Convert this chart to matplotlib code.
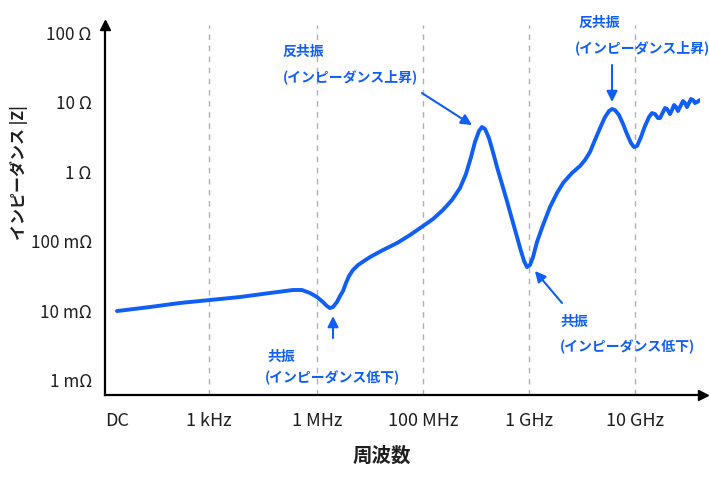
import matplotlib
matplotlib.use("Agg")
import matplotlib.pyplot as plt
import numpy as np

plt.rcParams['font.family'] = ['Noto Sans CJK JP', 'DejaVu Sans']

# x: position along the (schematic) frequency axis, DC = 0
# z: log10 of |Z| in ohms
freq_pos = [0.000, 0.311, 0.594, 0.877, 1.160, 1.443, 1.660, 1.745, 1.821, 1.887,
            1.943, 1.981, 2.009, 2.038, 2.075, 2.104, 2.132, 2.160, 2.189, 2.226,
            2.274, 2.330, 2.387, 2.509, 2.642, 2.764, 2.887, 2.981, 3.075, 3.160,
            3.236, 3.292, 3.340, 3.377, 3.415, 3.443, 3.472, 3.509, 3.547, 3.585,
            3.632, 3.679, 3.726, 3.774, 3.811, 3.840, 3.868, 3.896, 3.925, 3.962,
            4.019, 4.085, 4.151, 4.208, 4.292, 4.368, 4.415, 4.462, 4.509, 4.557,
            4.604, 4.642, 4.670, 4.698, 4.736, 4.774, 4.811, 4.849, 4.877, 4.906,
            4.943, 4.981, 5.019, 5.047, 5.075, 5.104, 5.123, 5.142, 5.170, 5.189,
            5.217, 5.236, 5.255, 5.274, 5.292, 5.311, 5.340, 5.358, 5.377, 5.396,
            5.415, 5.434, 5.453, 5.472, 5.500]
z_log = [-2.006, -1.948, -1.890, -1.847, -1.804, -1.746, -1.703, -1.703, -1.746, -1.804,
         -1.876, -1.934, -1.963, -1.948, -1.876, -1.790, -1.718, -1.602, -1.501, -1.415,
         -1.343, -1.285, -1.228, -1.127, -1.026, -0.911, -0.781, -0.680, -0.550, -0.406,
         -0.233, -0.032, 0.213, 0.429, 0.588, 0.646, 0.617, 0.487, 0.285, 0.069,
         -0.176, -0.421, -0.680, -0.939, -1.141, -1.285, -1.372, -1.343, -1.228, -1.012,
         -0.767, -0.507, -0.305, -0.161, -0.017, 0.084, 0.170, 0.285, 0.458, 0.631,
         0.790, 0.876, 0.905, 0.890, 0.818, 0.689, 0.545, 0.415, 0.357, 0.372,
         0.501, 0.660, 0.790, 0.847, 0.833, 0.775, 0.775, 0.833, 0.919, 0.905,
         0.833, 0.890, 0.963, 0.934, 0.876, 0.934, 1.020, 0.991, 0.934, 0.991,
         1.049, 1.035, 0.991, 1.006, 1.035]

x_ticks = [0.0, 0.868, 1.887, 2.887, 3.887, 4.887]
x_labels = ['DC', '1 kHz', '1 MHz', '100 MHz', '1 GHz', '10 GHz']
y_ticks = [1e-3, 1e-2, 1e-1, 1, 10, 100]
y_labels = ['1 m\u03a9', '10 m\u03a9', '100 m\u03a9', '1 \u03a9', '10 \u03a9', '100 \u03a9']

blue = '#0f5ef5'
grey_txt = '#1e1e1e'

fig = plt.figure(figsize=(7.09, 4.78), dpi=100)
ax = fig.add_axes([0.1481, 0.1736, 0.8392, 0.774])

z = 10 ** np.array(z_log)
ax.plot(freq_pos, z, color=blue, lw=2.8, solid_capstyle='round',
        solid_joinstyle='round', zorder=3)
ax.set_yscale('log')
ax.set_xlim(-0.113, 5.5)
ax.set_ylim(10 ** -3.216, 10 ** 2.115)

for xv in x_ticks[1:]:
    ax.axvline(xv, color='#b0b0b0', lw=1.0, ls=(0, (4, 4)), zorder=1)

ax.set_xticks(x_ticks)
ax.set_xticklabels(x_labels, fontsize=13, color=grey_txt)
ax.set_yticks(y_ticks)
ax.set_yticklabels(y_labels, fontsize=12.3, color=grey_txt)
ax.minorticks_off()
ax.tick_params(axis='x', length=0, pad=12)
ax.tick_params(axis='y', length=0, pad=9.5)

for s in ['top', 'right']:
    ax.spines[s].set_visible(False)
for s in ['left', 'bottom']:
    ax.spines[s].set_linewidth(1.6)
    ax.spines[s].set_color('black')
ax.plot(1.005, 0, '>', color='black', ms=7, transform=ax.transAxes, clip_on=False)
ax.plot(0, 1.0, '^', color='black', ms=7, transform=ax.transAxes, clip_on=False)

ax.set_xlabel('周波数', fontsize=14, fontweight='bold', color=grey_txt)
ax.xaxis.set_label_coords(0.465, -0.14)
ax.set_ylabel('インピーダンス |Z|', fontsize=11.5, fontweight='bold', color=grey_txt)
ax.yaxis.set_label_coords(-0.13, 0.6)

arrow = dict(arrowstyle='-|>', color=blue, lw=1.5, mutation_scale=16, shrinkA=0, shrinkB=0)

# anti-resonance near 100 MHz
ax.text(1.566, 10 ** 1.726, '反共振', color=blue, fontsize=10, fontweight='bold', va='center')
ax.text(1.566, 10 ** 1.366, '(インピーダンス上昇)', color=blue, fontsize=10, fontweight='bold', va='center')
ax.annotate('', xy=(3.349, 10 ** 0.674), xytext=(2.877, 10 ** 1.135), arrowprops=arrow)

# anti-resonance near 10 GHz
ax.text(4.358, 10 ** 2.144, '反共振', color=blue, fontsize=10, fontweight='bold', va='center', clip_on=False)
ax.text(4.321, 10 ** 1.784, '(インピーダンス上昇)', color=blue, fontsize=10, fontweight='bold', va='center', clip_on=False)
ax.annotate('', xy=(4.67, 10 ** 1.006), xytext=(4.67, 10 ** 1.539), arrowprops=arrow)

# resonance near 1 MHz
ax.text(1.415, 10 ** -2.669, '共振', color=blue, fontsize=10, fontweight='bold', va='center')
ax.text(1.396, 10 ** -2.971, '(インピーダンス低下)', color=blue, fontsize=10, fontweight='bold', va='center')
ax.annotate('', xy=(2.038, 10 ** -2.078), xytext=(2.038, 10 ** -2.395), arrowprops=arrow)

# resonance near 1 GHz
ax.text(4.179, 10 ** -2.164, '共振', color=blue, fontsize=10, fontweight='bold', va='center')
ax.text(4.179, 10 ** -2.524, '(インピーダンス低下)', color=blue, fontsize=10, fontweight='bold', va='center')
ax.annotate('', xy=(3.943, 10 ** -1.429), xytext=(4.198, 10 ** -1.890), arrowprops=arrow)

fig.savefig('out.png', dpi=100)
